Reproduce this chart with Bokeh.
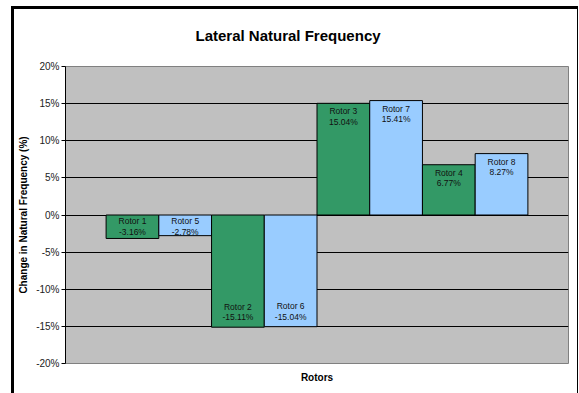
import numpy as np
from bokeh.plotting import figure
from bokeh.models import (ColumnDataSource, Range1d, FixedTicker, PrintfTickFormatter, Title)
from bokeh.core.properties import value
from bokeh.embed import file_html
from bokeh.resources import INLINE

# ---- data ----
rotor_names = ["Rotor 1", "Rotor 5", "Rotor 2", "Rotor 6", "Rotor 3", "Rotor 7", "Rotor 4", "Rotor 8"]
change_pct = [-3.16, -2.78, -15.11, -15.04, 15.04, 15.41, 6.77, 8.27]
y_ticks = [-20, -15, -10, -5, 0, 5, 10, 15, 20]
title_text = "Lateral Natural Frequency"
x_title = "Rotors"
y_title = "Change in Natural Frequency (%)"

GREEN = "#339966"
BLUE = "#99CCFF"
FONT = "Liberation Sans"

vals = np.array(change_pct)
pos = np.arange(len(rotor_names))
colors = [GREEN if i % 2 == 0 else BLUE for i in range(len(rotor_names))]
labels = [f"{n}\n{v:.2f}%" for n, v in zip(rotor_names, change_pct)]

src = ColumnDataSource(dict(x=pos, top=vals, color=colors, label=labels))

# chart-area frame drawn with layered inset shadows (white gaps over black bars)
frame_css = ("inset 0 6px 0 0 white, inset 11px 0 0 0 white, inset -1px 0 0 0 white, "
             "inset 0 9px 0 0 black, inset 14px 0 0 0 black, inset -2px 0 0 0 black")

W, H = 579, 393
p = figure(width=W, height=H, output_backend="svg", toolbar_location=None,
           x_range=Range1d(-0.5 - 0.77, len(rotor_names) - 0.5 + 0.77),
           y_range=Range1d(-20, 20),
           min_border_left=65, min_border_right=11, min_border_top=66, min_border_bottom=30,
           styles={"box-shadow": frame_css})
p.background_fill_color = "#C0C0C0"
p.border_fill_color = None
p.outline_line_color = "#808080"
p.outline_line_width = 1

# bars
p.vbar(x="x", top="top", bottom=0, width=1.0, fill_color="color", line_color="black",
       line_width=1, source=src)

# labels inside bar ends
pos_mask = vals >= 0
src_pos = ColumnDataSource(dict(x=pos[pos_mask], y=vals[pos_mask],
                                label=[l for l, m in zip(labels, pos_mask) if m]))
neg_anchor = np.minimum(vals, -3.6)
src_neg = ColumnDataSource(dict(x=pos[~pos_mask], y=neg_anchor[~pos_mask],
                                label=[l for l, m in zip(labels, pos_mask) if not m]))
p.text(x="x", y="y", text="label", source=src_pos, text_align="center", text_baseline="top",
       y_offset=3, text_font=value(FONT), text_font_size="8.5px", text_color="#111111",
       text_line_height=1.05)
p.text(x="x", y="y", text="label", source=src_neg, text_align="center", text_baseline="bottom",
       y_offset=-5, text_font=value(FONT), text_font_size="8.5px", text_color="#111111",
       text_line_height=1.05)

# axes
p.yaxis.ticker = FixedTicker(ticks=y_ticks)
p.yaxis.formatter = PrintfTickFormatter(format="%d%%")
p.yaxis.major_tick_in = 0
p.yaxis.major_tick_out = 4
p.yaxis.minor_tick_line_color = None
p.yaxis.axis_line_color = "black"
p.yaxis.major_label_text_font = FONT
p.yaxis.major_label_text_font_size = "10px"
p.yaxis.major_label_text_color = "#222222"
p.yaxis.major_label_standoff = 2
p.yaxis.axis_label = y_title
p.yaxis.axis_label_text_font = FONT
p.yaxis.axis_label_text_font_size = "10px"
p.yaxis.axis_label_text_font_style = "bold"
p.yaxis.axis_label_text_color = "black"
p.yaxis.axis_label_standoff = 4

p.xaxis.ticker = FixedTicker(ticks=[])
p.xaxis.major_tick_out = 0
p.xaxis.major_tick_in = 0
p.xaxis.minor_tick_line_color = None
p.xaxis.axis_line_color = None
p.xaxis.major_label_text_font_size = "0px"
p.xaxis.major_label_standoff = 0
p.xaxis.axis_label = x_title
p.xaxis.axis_label_text_font = FONT
p.xaxis.axis_label_text_font_size = "10px"
p.xaxis.axis_label_text_font_style = "bold"
p.xaxis.axis_label_text_color = "black"
p.xaxis.axis_label_standoff = 8

p.xgrid.grid_line_color = None
p.ygrid.ticker = FixedTicker(ticks=y_ticks)
p.ygrid.grid_line_color = "black"
p.ygrid.grid_line_width = 1

# title
p.add_layout(Title(text=title_text, align="left", offset=130, standoff=46,
                   text_font=FONT, text_font_size="15px", text_font_style="bold",
                   text_color="black"), "above")

open("out.html", "w").write(file_html(p, INLINE))
